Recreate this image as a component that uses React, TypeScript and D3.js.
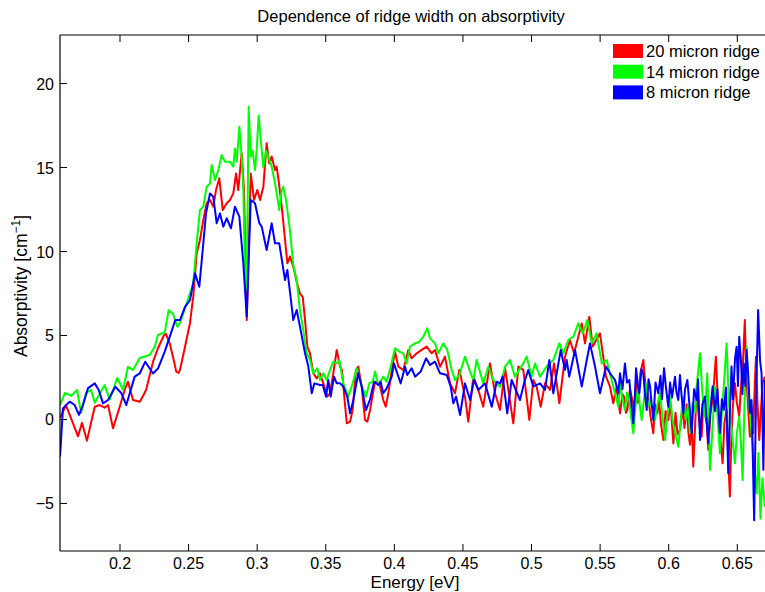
import React from "react";
import * as d3 from "d3";

const TITLE = "Dependence of ridge width on absorptivity";
const X_LABEL = "Energy [eV]";
const SERIES_NAMES = ["20 micron ridge", "14 micron ridge", "8 micron ridge"];
const SERIES_COLORS = ["#ff0000", "#00ff00", "#0000ff"];

const X_TICKS = [0.2, 0.25, 0.3, 0.35, 0.4, 0.45, 0.5, 0.55, 0.6, 0.65];
const X_TICK_LABELS = ["0.2", "0.25", "0.3", "0.35", "0.4", "0.45", "0.5", "0.55", "0.6", "0.65"];
const Y_TICKS = [-5, 0, 5, 10, 15, 20];
const Y_TICK_LABELS = ["\u22125", "0", "5", "10", "15", "20"];

const RED_E = [0.1563,0.1606,0.1694,0.1723,0.1759,0.1816,0.1852,0.1888,0.1913,0.1949,0.1998,0.2034,0.2058,0.2095,0.2144,0.2168,0.2190,0.2241,0.2277,0.2321,0.2335,0.2362,0.2386,0.2410,0.2428,
0.2437,0.2474,0.2510,0.2534,0.2559,0.2583,0.2607,0.2632,0.2656,0.2680,0.2700,0.2724,0.2749,0.2778,0.2802,0.2826,0.2846,0.2862,0.2887,0.2904,0.2924,0.2953,0.2977,0.3001,0.3021,0.3045,0.3069,0.3088,0.3106,0.3130,0.3142,0.3159,0.3179,0.3196,0.3220,
0.3239,0.3263,0.3288,0.3312,0.3332,0.3349,0.3366,0.3385,0.3409,0.3434,0.3458,0.3482,0.3511,0.3531,0.3555,0.3580,0.3604,0.3618,0.3635,0.3653,0.3677,0.3696,0.3720,0.3737,0.3762,0.3786,0.3803,
0.3823,0.3859,0.3890,0.3919,0.3937,0.3956,0.3985,0.4005,0.4029,0.4065,0.4102,0.4126,0.4163,0.4199,0.4236,0.4272,0.4296,0.4333,0.4369,0.4406,0.4442,0.4474,0.4515,0.4539,0.4576,0.4612,0.4648,0.4697,0.4734,
0.4770,0.4807,0.4831,0.4867,0.4904,0.4940,0.4984,0.5013,0.5037,0.5067,0.5098,0.5135,0.5164,0.5203,0.5244,0.5280,0.5310,0.5366,0.5390,0.5421,0.5446,0.5499,0.5543,0.5572,0.5596,0.5621,
0.5645,0.5663,0.5674,0.5689,0.5698,0.5718,0.5730,0.5747,0.5762,0.5776,0.5794,0.5815,0.5831,0.5851,0.5867,0.5888,0.5900,0.5917,0.5929,0.5944,0.5961,0.5977,0.5997,0.6013,0.6034,0.6050,0.6065,0.6082,
0.6101,0.6115,0.6131,0.6144,0.6155,0.6166,0.6179,0.6192,0.6204,0.6217,0.6228,0.6240,0.6253,0.6264,0.6279,0.6288,0.6304,0.6320,0.6333,0.6344,0.6359,0.6373,0.6393,0.6406,0.6422,0.6435,0.6446,
0.6457,0.6468,0.6483,0.6497,0.6514,0.6527,0.6539,0.6555,0.6566,0.6577,0.6592,0.6603,0.6616,0.6625,0.6636,0.6647,0.6660,0.6672,0.6684,0.6701];
const RED_V = [0.1,0.86,-1.0,-0.2,-1.26,0.76,0.86,0.7,0.86,-0.53,0.76,1.76,2.25,1.16,1.06,1.4,1.76,3.44,4.24,5.03,5.1,4.55,3.74,2.85,2.77,
2.95,4.33,5.73,7.31,9.89,10.68,11.87,12.87,13.07,12.67,13.66,14.36,12.47,12.87,13.07,13.46,14.65,13.66,15.84,13.66,5.92,14.65,13.07,13.66,13.07,13.86,16.44,15.25,15.65,14.85,15.05,14.06,12.67,11.28,9.3,
9.7,9.1,8.2,7.5,7.3,5.92,4.33,3.94,2.75,2.45,2.75,2.15,1.36,1.56,2.75,4.14,3.15,2.95,1.36,-0.23,-0.13,0.56,2.95,3.15,1.96,-0.03,-0.13,
0.57,2.25,2.15,1.16,0.76,1.56,3.14,4.04,3.14,2.95,4.14,3.64,3.94,4.14,4.34,3.94,4.14,3.14,3.74,2.15,1.56,2.95,1.36,-0.13,2.55,1.76,0.76,3.34,1.56,
0.57,3.05,1.76,-0.23,3.15,2.95,-0.03,2.35,1.96,0.76,2.15,1.76,3.34,0.96,3.74,4.73,3.94,5.72,4.53,6.12,4.34,5.13,2.55,1.96,0.96,1.96,
0.37,1.5,1.36,0.4,0.57,1.8,1.36,0.6,2.15,1.0,2.8,3.54,2.0,1.36,0.2,-0.82,0.9,0.37,1.2,-0.3,-1.22,0.5,-0.03,1.0,-1.42,0.4,-0.9,-0.62,
0.7,-0.5,0.9,-0.8,-1.5,0.3,-2.81,-0.5,1.96,0.3,-0.5,-1.02,1.0,0.5,-0.4,-1.8,0.3,1.2,2.5,3.74,1.0,-0.8,-2.61,-0.2,0.57,-2.5,-4.59,
-1.0,0.8,2.15,1.0,0.2,2.0,3.0,5.92,2.5,1.0,-1.02,0.8,-0.82,1.5,3.74,1.0,-1.22,0.5,2.15,2.55];

const GREEN_E = [0.1563,0.1599,0.1643,0.1687,0.1716,0.1752,0.1789,0.1816,0.1888,0.1925,0.1980,0.2022,0.2058,0.2095,0.2144,0.2217,0.2253,0.2277,0.2326,0.2355,0.2386,0.2418,
0.2437,0.2486,0.2534,0.2559,0.2583,0.2607,0.2632,0.2656,0.2668,0.2693,0.2717,0.2741,0.2765,0.2802,0.2826,0.2838,0.2851,0.2870,0.2887,0.2899,0.2911,0.2924,0.2938,0.2953,0.2967,0.2984,0.2997,0.3011,0.3026,0.3045,0.3064,0.3081,0.3106,0.3130,0.3150,0.3161,0.3179,0.3190,0.3210,
0.3239,0.3263,0.3288,0.3312,0.3336,0.3361,0.3385,0.3409,0.3438,0.3458,0.3482,0.3507,0.3531,0.3555,0.3580,0.3599,0.3628,0.3664,0.3696,0.3726,0.3755,0.3793,0.3817,0.3842,
0.3859,0.3883,0.3919,0.3944,0.3973,0.4005,0.4036,0.4065,0.4090,0.4114,0.4151,0.4182,0.4211,0.4240,0.4260,0.4296,0.4320,0.4357,0.4386,0.4418,0.4442,0.4474,0.4515,0.4552,0.4576,0.4600,0.4648,0.4685,0.4721,
0.4770,0.4807,0.4843,0.4879,0.4940,0.4965,0.5001,0.5025,0.5062,0.5110,0.5159,0.5203,0.5232,0.5268,0.5305,0.5341,0.5373,0.5407,0.5439,0.5475,0.5512,0.5548,0.5584,0.5633,
0.5645,0.5663,0.5681,0.5696,0.5713,0.5725,0.5742,0.5758,0.5778,0.5791,0.5803,0.5820,0.5835,0.5849,0.5864,0.5882,0.5900,0.5918,0.5937,0.5955,0.5973,0.5991,0.6010,0.6028,0.6046,0.6070,
0.6090,0.6107,0.6123,0.6141,0.6155,0.6174,0.6192,0.6210,0.6228,0.6246,0.6264,0.6281,0.6301,0.6319,0.6337,0.6355,0.6373,0.6388,0.6406,0.6422,0.6439,0.6457,0.6483,0.6497,0.6514,0.6527,0.6539,
0.6552,0.6568,0.6581,0.6592,0.6604,0.6621,0.6641,0.6654,0.6669,0.6683,0.6701];
const GREEN_V = [0.86,1.58,1.4,1.76,0.39,1.58,1.76,1.0,2.05,1.2,2.47,1.76,3.14,2.95,3.66,3.84,4.33,5.03,5.2,6.5,6.3,5.52,
5.73,6.92,8.1,10.5,12.47,12.67,13.86,14.05,15.15,14.25,14.85,15.74,15.35,15.35,15.05,16.14,15.35,17.43,15.65,13.66,9.1,7.7,18.62,15.65,16.0,14.85,16.14,18.1,16.64,15.0,16.0,15.65,15.05,14.06,13.07,12.47,13.66,13.86,13.07,
11.28,9.2,8.3,6.5,5.33,3.94,3.54,2.75,3.05,2.35,2.75,2.35,2.95,3.44,3.34,3.54,2.15,1.36,2.15,3.05,2.15,1.36,2.15,2.25,
2.85,2.05,2.55,2.25,3.14,4.24,4.04,3.94,3.34,4.34,4.53,4.63,4.93,5.43,4.83,4.53,3.94,4.53,4.14,2.95,2.35,2.65,3.74,2.85,2.35,3.54,2.15,3.14,2.35,
1.95,3.15,3.54,2.55,3.34,3.74,2.55,3.34,2.55,3.15,3.54,4.53,3.94,4.73,4.93,5.72,5.13,5.92,4.53,5.13,3.34,3.54,2.35,0.76,
2.15,1.2,0.57,1.6,1.16,0.2,-0.82,0.8,1.96,0.7,-0.03,1.2,2.15,0.8,1.16,0.6,-0.03,0.9,1.56,0.2,-1.22,0.3,1.36,0.0,-0.8,-1.62,
0.2,1.36,0.0,0.8,-0.82,1.0,0.4,2.5,3.94,1.5,0.17,2.75,-3.0,-0.5,1.96,0.3,-2.01,0.5,2.5,4.53,1.0,-0.5,-2.61,-0.8,0.17,-1.5,-3.6,
0.8,4.33,1.5,0.3,-0.82,-2.5,-4.39,-2.0,-5.9,-3.5,-5.2];

const BLUE_E = [0.1563,0.1584,0.1633,0.1670,0.1701,0.1730,0.1767,0.1816,0.1845,0.1876,0.1913,0.1966,0.2009,0.2046,0.2107,0.2144,0.2184,0.2241,0.2277,0.2326,0.2374,0.2403,
0.2437,0.2474,0.2510,0.2547,0.2578,0.2603,0.2627,0.2656,0.2680,0.2705,0.2729,0.2753,0.2778,0.2809,0.2838,0.2870,0.2899,0.2924,0.2953,0.2984,0.3016,0.3033,0.3069,0.3106,0.3130,0.3161,0.3203,0.3220,
0.3252,0.3263,0.3288,0.3312,0.3349,0.3373,0.3398,0.3417,0.3458,0.3478,0.3502,0.3518,0.3536,0.3560,0.3580,0.3604,0.3628,0.3657,0.3677,0.3701,0.3737,0.3762,0.3793,
0.3823,0.3852,0.3883,0.3900,0.3919,0.3944,0.3981,0.3997,0.4021,0.4046,0.4078,0.4094,0.4126,0.4151,0.4192,0.4231,0.4260,0.4296,0.4333,0.4382,0.4411,0.4430,0.4450,0.4479,0.4515,0.4552,0.4581,0.4612,0.4661,0.4710,0.4746,
0.4770,0.4790,0.4823,0.4855,0.4916,0.4945,0.4976,0.5013,0.5062,0.5098,0.5130,0.5159,0.5213,0.5244,0.5256,0.5275,0.5317,0.5366,0.5426,0.5463,0.5499,0.5543,0.5572,0.5609,0.5633,
0.5645,0.5663,0.5681,0.5696,0.5713,0.5725,0.5742,0.5754,0.5762,0.5776,0.5786,0.5802,0.5815,0.5827,0.5840,0.5853,0.5864,0.5875,0.5888,0.5904,0.5924,0.5940,0.5951,0.5966,0.5980,0.5997,0.6010,0.6024,
0.6046,0.6057,0.6070,0.6082,0.6093,0.6107,0.6119,0.6136,0.6152,0.6168,0.6185,0.6204,0.6214,0.6228,0.6246,0.6264,0.6275,0.6288,0.6304,0.6320,0.6337,0.6355,0.6373,0.6388,0.6402,0.6417,0.6434,
0.6446,0.6458,0.6468,0.6483,0.6495,0.6505,0.6514,0.6527,0.6537,0.6548,0.6559,0.6568,0.6581,0.6592,0.6604,0.6614,0.6623,0.6636,0.6652,0.6666,0.6677,0.6690,0.6701];
const BLUE_V = [-2.2,0.65,1.06,0.86,0.27,0.86,1.87,2.15,1.76,0.96,1.16,1.95,1.58,0.86,2.55,2.74,3.44,2.74,3.03,4.04,5.2,5.92,
5.92,6.71,7.1,8.7,7.9,10.09,12.27,13.46,13.26,11.68,12.27,11.48,11.98,11.38,12.67,12.08,9.3,6.12,13.07,12.87,11.68,11.48,10.09,11.68,10.49,10.49,8.3,8.9,
6.71,5.92,6.52,5.53,3.94,3.15,1.56,2.15,2.05,2.05,1.36,2.35,1.36,2.55,2.15,2.15,1.96,1.36,0.37,1.16,2.75,1.96,0.56,
1.2,2.25,2.05,2.25,1.56,1.85,2.55,3.34,2.75,2.15,3.14,2.65,3.05,2.55,2.85,3.64,3.25,3.44,2.75,2.65,1.95,0.96,1.36,0.27,2.15,1.16,2.35,1.76,2.15,0.76,2.25,
2.15,2.55,0.37,2.35,1.16,2.15,2.95,1.96,2.15,1.76,3.54,1.56,4.14,2.95,3.54,2.55,4.14,1.96,4.53,3.15,1.56,3.15,2.75,2.35,1.56,
2.75,1.8,3.34,2.2,2.35,1.2,-0.23,1.5,3.05,2.0,1.56,3.0,2.75,1.5,0.57,2.4,1.96,1.0,-0.03,2.2,1.56,2.6,1.2,3.05,1.9,0.76,2.2,1.3,
2.55,1.6,1.16,2.65,1.5,0.37,1.8,2.35,0.8,-0.82,1.8,1.16,2.4,-1.22,0.9,1.36,0.2,-1.42,0.6,1.96,0.5,1.8,-0.82,1.2,0.57,1.9,-3.2,
0.5,3.15,1.2,3.6,4.33,2.0,4.93,3.5,1.5,3.34,2.0,4.14,2.5,0.4,1.16,-2.5,-6.0,1.0,6.52,3.5,2.75,-3.0,2.35];

const SERIES = [
  { e: RED_E, v: RED_V },
  { e: GREEN_E, v: GREEN_V },
  { e: BLUE_E, v: BLUE_V },
];

const W = 765;
const H = 592;
const L = 60, R = 765, T = 35, B = 551;
const FONT = "'Liberation Sans', Arial, Helvetica, sans-serif";

export default function App() {
  const x = d3.scaleLinear().domain([0.15626, 0.6702]).range([L, R]);
  const y = d3.scaleLinear().domain([-7.83, 22.89]).range([B, T]);
  const line = d3.line<[number, number]>().x(d => x(d[0])).y(d => y(d[1]));
  const TL = 7;
  return (
    <svg width={W} height={H} style={{ position: "absolute", left: 0, top: 0, background: "#fff" }}
      fontFamily={FONT}>
      <rect x={0} y={0} width={W} height={H} fill="#fff" />
      <defs>
        <clipPath id="plotclip">
          <rect x={L} y={T} width={R - L} height={B - T} />
        </clipPath>
      </defs>
      <g clipPath="url(#plotclip)">
        {SERIES.map((s, i) => (
          <path key={i}
            d={line(s.e.map((e, k) => [e, s.v[k]] as [number, number])) || ""}
            fill="none" stroke={SERIES_COLORS[i]} strokeWidth={2} strokeLinejoin="round" />
        ))}
      </g>
      <line x1={L} y1={T} x2={R} y2={T} stroke="#000" strokeWidth={1.2} />
      <line x1={L} y1={B} x2={R} y2={B} stroke="#000" strokeWidth={1.2} />
      <line x1={L} y1={T} x2={L} y2={B} stroke="#000" strokeWidth={1.2} />
      {X_TICKS.map((t, i) => (
        <g key={"xt" + i}>
          <line x1={x(t)} x2={x(t)} y1={B} y2={B - TL} stroke="#000" />
          <line x1={x(t)} x2={x(t)} y1={T} y2={T + TL} stroke="#000" />
          <text x={x(t)} y={569} textAnchor="middle" fontSize={16}>{X_TICK_LABELS[i]}</text>
        </g>
      ))}
      {Y_TICKS.map((t, i) => (
        <g key={"yt" + i}>
          <line x1={L} x2={L + TL} y1={y(t)} y2={y(t)} stroke="#000" />
          <text x={54} y={y(t) + 6} textAnchor="end" fontSize={16}>{Y_TICK_LABELS[i]}</text>
        </g>
      ))}
      <text x={411} y={22} textAnchor="middle" fontSize={16.5}>{TITLE}</text>
      <text x={415} y={588} textAnchor="middle" fontSize={17}>{X_LABEL}</text>
      <text transform="translate(27,286) rotate(-90)" textAnchor="middle" fontSize={17.5}>
        Absorptivity [cm<tspan dy={-7} fontSize={12}>{"\u22121"}</tspan><tspan dy={7}>]</tspan>
      </text>
      {SERIES_NAMES.map((n, i) => (
        <g key={"lg" + i}>
          <rect x={613} y={44 + i * 20.7} width={30} height={14} fill={SERIES_COLORS[i]} />
          <text x={646} y={57 + i * 20.7} fontSize={16.5}>{n}</text>
        </g>
      ))}
    </svg>
  );
}
